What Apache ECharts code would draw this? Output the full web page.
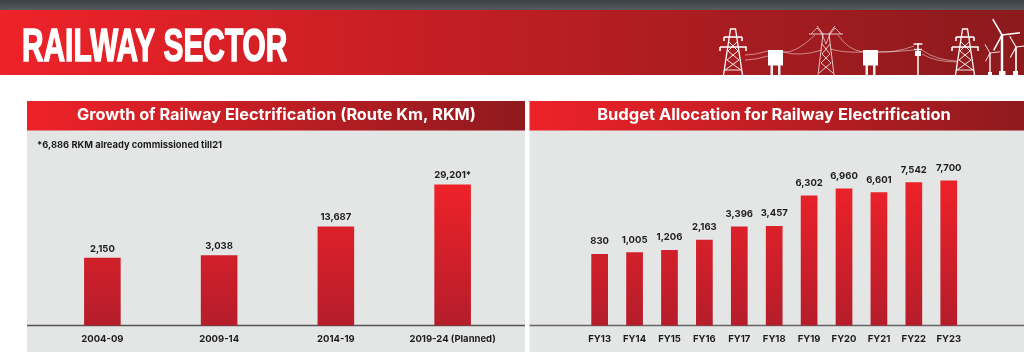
<!DOCTYPE html>
<html lang="en">
  <head>
    <meta charset="utf-8" />
    <title>Railway Sector</title>
    <script src="https://cdn.jsdelivr.net/npm/echarts@6/dist/echarts.min.js"></script>
    <style>
      * { margin: 0; padding: 0; }
      html, body, #chart { width: 100%; height: 100%; overflow: hidden; background: #fff; }
    </style>
  </head>
  <body>
    <div id="chart"></div>
    <script>
      var rkmPeriods = ["2004-09", "2009-14", "2014-19", "2019-24 (Planned)"];
      var rkmValues = [2150, 3038, 13687, 29201];
      var rkmSuffix = ["", "", "", "*"];

      var budgetYears = ["FY13", "FY14", "FY15", "FY16", "FY17", "FY18", "FY19", "FY20", "FY21", "FY22", "FY23"];
      var budgetValues = [830, 1005, 1206, 2163, 3396, 3457, 6302, 6960, 6601, 7542, 7700];

      var labelFont = "Inter, 'Noto Sans', sans-serif";
      var RED = "#ee2229";
      var DARK = "#8f1a1e";

      function hGradient(from, to) {
        return new echarts.graphic.LinearGradient(0, 0, 1, 0, [
          { offset: 0, color: from },
          { offset: 1, color: to },
        ]);
      }

      // the bars share one gradient, so short bars start darker
      function barGradient(top, bottom) {
        return {
          type: "linear", global: true, x: 0, y: top, x2: 0, y2: bottom,
          colorStops: [
            { offset: 0, color: "#ee2229" },
            { offset: 1, color: "#b51d2b" },
          ],
        };
      }

      function rect(x, y, w, h, fill) {
        return { type: "rect", shape: { x: x, y: y, width: w, height: h }, style: { fill: fill }, silent: true };
      }

      function text(x, y, str, font, fill, align) {
        return {
          type: "text", x: x, y: y, silent: true,
          style: { text: str, font: font, fill: fill, align: align || "center", verticalAlign: "middle" },
        };
      }

      function line(points, w, stroke) {
        return {
          type: "polyline", silent: true,
          shape: { points: points },
          style: { stroke: stroke || "#fff", lineWidth: w || 1, fill: null },
        };
      }

      function wire(x1, y1, cx, cy, x2, y2) {
        return {
          type: "bezierCurve", silent: true,
          shape: { x1: x1, y1: y1, cpx1: cx, cpy1: cy, x2: x2, y2: y2 },
          style: { stroke: "rgba(255,255,255,0.6)", lineWidth: 0.8, fill: null },
        };
      }

      function pylon(cx, top) {
        var out = [];
        out.push(line([[cx - 9.5, 75], [cx - 2.5, top], [cx + 2.5, top], [cx + 9.5, 75]], 1.3));
        out.push(line([[cx - 9, 37], [cx + 9, 37]], 1.6));
        out.push(line([[cx - 13, 47], [cx + 13, 47], [cx + 13, 51]], 1.6));
        out.push(line([[cx - 13, 51], [cx - 13, 47]], 1.6));
        out.push(line([[cx - 9, 37], [cx - 9, 41]], 1.6));
        out.push(line([[cx + 9, 37], [cx + 9, 41]], 1.6));
        out.push(line([[cx - 4, 42], [cx + 5, 51], [cx - 6, 60], [cx + 8, 70], [cx - 9, 70]], 0.9));
        out.push(line([[cx + 4, 42], [cx - 5, 51], [cx + 6, 60], [cx - 8, 70]], 0.9));
        return out;
      }

      function lattice(cx) {
        var out = [];
        out.push(line([[cx - 17, 34], [cx + 17, 34]], 1.2, "rgba(255,255,255,0.75)"));
        out.push(line([[cx - 9, 26], [cx - 3, 34], [cx - 8, 75]], 1, "rgba(255,255,255,0.75)"));
        out.push(line([[cx + 9, 26], [cx + 3, 34], [cx + 8, 75]], 1, "rgba(255,255,255,0.75)"));
        out.push(line([[cx - 15, 34], [cx - 9, 28], [cx - 4, 34], [cx, 44], [cx + 4, 34], [cx + 9, 28], [cx + 15, 34]], 0.8, "rgba(255,255,255,0.75)"));
        out.push(line([[cx - 4, 44], [cx + 4, 54], [cx - 5, 63], [cx + 7, 73]], 1, "rgba(255,255,255,0.75)"));
        out.push(line([[cx + 4, 44], [cx - 4, 54], [cx + 5, 63], [cx - 7, 73]], 1, "rgba(255,255,255,0.75)"));
        return out;
      }

      function insulator(x) {
        return [
          rect(x, 50, 15, 15.5, "#fff"),
          rect(x + 2.5, 65, 2.5, 10, "#eee"),
          rect(x + 10, 65, 2.5, 10, "#eee"),
        ];
      }

      function turbine(x, hub, size) {
        return [
          line([[x, 75], [x, hub]], size / 9),
          line([[x, hub], [x - size * 0.42, hub - size * 0.72]], size / 14),
          line([[x, hub], [x + size * 0.82, hub - size * 0.1]], size / 14),
          line([[x, hub], [x - size * 0.38, hub + size * 0.7]], size / 14),
        ];
      }

      var decor = [].concat(
        pylon(733, 29), pylon(965, 29), lattice(826),
        insulator(768), insulator(863),
        [
          wire(745, 55, 755, 55, 768, 51),
          wire(745, 60, 755, 60, 768, 56),
          wire(783, 52, 800, 57, 822, 50),
          wire(783, 52, 795, 54, 815, 35),
          wire(830, 49, 845, 53, 863, 52),
          wire(838, 35, 848, 50, 863, 52),
          wire(878, 52, 895, 53, 914, 46),
          wire(878, 52, 895, 52, 914, 50),
          wire(922, 50, 935, 60, 957, 61),
          wire(922, 54, 935, 62, 957, 62),
          line([[918, 43], [918, 75]], 1.5),
          line([[913.5, 44], [922.5, 44]], 1.4),
          line([[914, 49.5], [922, 49.5]], 1.4),
          rect(915, 51, 6, 5, "#fff"),
        ],
        turbine(990, 53, 12), turbine(1002, 35, 22), turbine(1016, 47, 15),
        [rect(999, 71, 6.5, 4, "#fff"), rect(1013, 71, 5, 4, "#fff"), rect(988, 72, 4, 3, "#fff")]
      );

      var background = [].concat(
        [
          {
            type: "rect", silent: true,
            shape: { x: 0, y: 0, width: 1024, height: 10 },
            style: { fill: new echarts.graphic.LinearGradient(0, 0, 0, 1, [
              { offset: 0, color: "#3c4145" },
              { offset: 1, color: "#565a5d" },
            ]) },
          },
          {
            type: "rect", silent: true,
            shape: { x: 0, y: 10, width: 1024, height: 65 },
            style: { fill: hGradient(RED, "#8b1a1d") },
          },
          {
            // no condensed face installed, so squeeze the bold one
            type: "text", x: 22, y: 48, scaleX: 0.635, silent: true,
            style: {
              text: "RAILWAY SECTOR",
              font: "bold 47px 'Liberation Sans', sans-serif",
              fill: "#fff", stroke: "#fff", lineWidth: 1.6,
              align: "left", verticalAlign: "middle",
            },
          },
          rect(27, 130, 498, 222, "#e4e5e5"),
          rect(529.5, 130, 494.5, 222, "#e4e5e5"),
          {
            type: "rect", silent: true,
            shape: { x: 27, y: 101, width: 498, height: 29.5 },
            style: { fill: hGradient(RED, DARK) },
          },
          {
            type: "rect", silent: true,
            shape: { x: 529.5, y: 101, width: 494.5, height: 29.5 },
            style: { fill: hGradient(RED, DARK) },
          },
          text(276.5, 115.5, "Growth of Railway Electrification (Route Km, RKM)", "bold 16.3px " + labelFont, "#fff"),
          text(774, 115.5, "Budget Allocation for Railway Electrification", "bold 16.5px " + labelFont, "#fff"),
          text(37, 145, "*6,886 RKM already commissioned till21", "bold 9.4px " + labelFont, "#1d1d1d", "left"),
          line([[27, 325.5], [525, 325.5]], 1.4, "#555"),
          line([[529.5, 325.5], [1024, 325.5]], 1.4, "#666"),
        ],
        decor
      );

      var axisLabel = { color: "#1d1d1d", fontFamily: labelFont, fontWeight: 700, fontSize: 9.5, margin: 9, interval: 0 };

      function numberLabel(suffix, gap) {
        return {
          show: true, position: "top", distance: gap,
          color: "#1d1d1d", fontFamily: labelFont, fontWeight: 700, fontSize: 9.5,
          formatter: function (p) {
            return p.value.toLocaleString("en-US") + (suffix ? suffix[p.dataIndex] : "");
          },
        };
      }

      var chart = echarts.init(document.getElementById("chart"), null, { renderer: "canvas" });
      chart.setOption({
        animation: false,
        backgroundColor: "#fff",
        graphic: { elements: background },
        grid: [
          { left: 44, width: 467, top: 130, height: 195.5 },
          { left: 582.2, width: 384, top: 130, height: 195.5 },
        ],
        xAxis: [
          { type: "category", gridIndex: 0, data: rkmPeriods, axisLine: { show: false }, axisTick: { show: false }, axisLabel: axisLabel },
          { type: "category", gridIndex: 1, data: budgetYears, axisLine: { show: false }, axisTick: { show: false }, axisLabel: axisLabel },
        ],
        // the original charts cut their baselines well below zero
        yAxis: [
          { type: "value", gridIndex: 0, min: -22840, max: 49300, startValue: -22840, show: false },
          { type: "value", gridIndex: 1, min: -5850, max: 12421, startValue: -5850, show: false },
        ],
        series: [
          {
            type: "bar", xAxisIndex: 0, yAxisIndex: 0, data: rkmValues, barWidth: 36.6,
            itemStyle: { color: barGradient(184, 325.5) },
            label: numberLabel(rkmSuffix, 4),
          },
          {
            type: "bar", xAxisIndex: 1, yAxisIndex: 1, data: budgetValues, barWidth: 16.7,
            itemStyle: { color: barGradient(180, 325.5) },
            label: numberLabel(null, 7.5),
          },
        ],
      });
    </script>
  </body>
</html>
